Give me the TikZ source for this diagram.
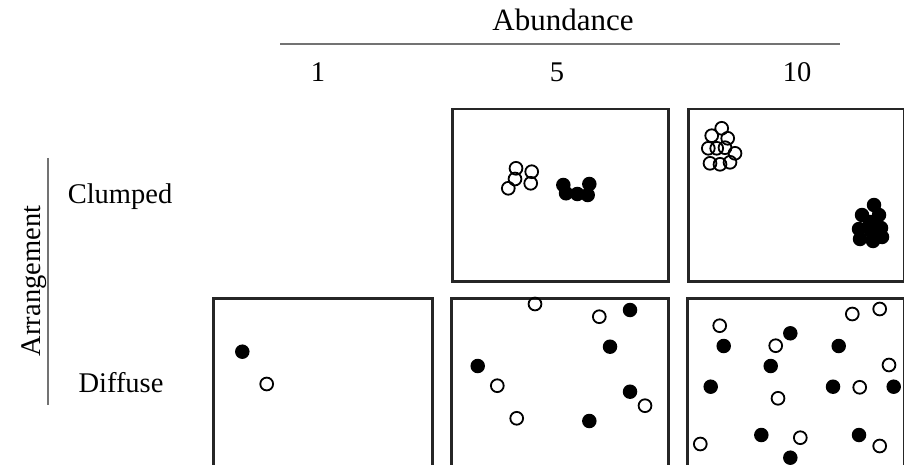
\documentclass[tikz,border=0pt]{standalone}
\usepackage{fontspec}
\setmainfont{Liberation Serif}
\begin{document}
\begin{tikzpicture}[x=1pt,y=-1pt,
  panel/.style={draw=black!85,line width=2.5pt,rectangle,inner sep=0pt,anchor=north west},
  od/.style={circle,draw=black,line width=1.8pt,minimum size=12.8pt,inner sep=0pt},
  fd/.style={circle,fill=black,minimum size=14.5pt,inner sep=0pt},
  lab/.style={font=\fontsize{28.5}{30}\selectfont,inner sep=0pt,anchor=base},
  axis/.style={draw=black!55,line width=1.4pt}]
\useasboundingbox (0,0) rectangle (904,465);
% header
\node[lab,font=\fontsize{31}{32}\selectfont] (abund) at (563,31) {Abundance};
\coordinate (hl) at (280,44);
\coordinate (hr) at (840,44);
\draw[axis] (hl) -- (hr);
\node[lab] (n1) at (318,82) {1};
\node[lab] (n5) at (557,82) {5};
\node[lab] (n10) at (797,82) {10};
% side
\node[lab,rotate=90] (arr) at (40,281) {Arrangement};
\coordinate (vt) at (48,158);
\coordinate (vb) at (48,405);
\draw[axis] (vt) -- (vb);
\node[lab] (clumped) at (120,204) {Clumped};
\node[lab] (diffuse) at (121,392) {Diffuse};
% panels
\node[panel,minimum width=216pt,minimum height=172pt] (c5) at (451,108) {};
\node[panel,minimum width=216pt,minimum height=172pt] (c10) at (687,108) {};
\node[panel,minimum width=219pt,minimum height=180pt] (d1) at (212,297) {};
\node[panel,minimum width=217pt,minimum height=180pt] (d5) at (450,297) {};
\node[panel,minimum width=217pt,minimum height=180pt] (d10) at (686,297) {};
% clumped 5
\foreach \x/\y [count=\i] in {516/168.3,531.7/171.7,515/179,530.7/183.3,508.3/188.3}
  \node[od] (c5o\i) at (\x,\y) {};
\foreach \x/\y [count=\i] in {563.3/185,589.3/184,566/193.3,577.3/194,587.7/195}
  \node[fd] (c5f\i) at (\x,\y) {};
% clumped 10
\foreach \x/\y [count=\i] in {721.7/128.3,711.7/135.7,727.7/138.3,708.3/148.3,716.7/148.3,725/147.7,735/153.3,710/163.3,720/164.3,730/162.3}
  \node[od] (c10o\i) at (\x,\y) {};
\foreach \x/\y [count=\i] in {874/205,862/215,879/215,870/222,859/229,881/228,871/231,860/239,873/241,882/237}
  \node[fd] (c10f\i) at (\x,\y) {};
% diffuse 1
\node[fd] (d1f1) at (242.3,351.7) {};
\node[od] (d1o1) at (266.7,384) {};
% diffuse 5
\foreach \x/\y [count=\i] in {535/304,599.3/316.7,497.3/385.7,645/405.7,516.7/418.3}
  \node[od] (d5o\i) at (\x,\y) {};
\foreach \x/\y [count=\i] in {630/310,610/346.7,477.7/366,630/391.7,589.3/421}
  \node[fd] (d5f\i) at (\x,\y) {};
% diffuse 10
\foreach \x/\y [count=\i] in {719.7/325.7,775.7/345.7,852.3/314,879.7/309,889/365,859.7/387.3,778/398.3,800.3/437.7,700.3/444,879.7/446}
  \node[od] (d10o\i) at (\x,\y) {};
\foreach \x/\y [count=\i] in {723.7/346,790.3/333.3,770.7/366,838.7/346,710.7/386.7,833/386.7,893.7/386.7,761.3/435,859/435,790.3/457.7}
  \node[fd] (d10f\i) at (\x,\y) {};
\end{tikzpicture}
\end{document}
